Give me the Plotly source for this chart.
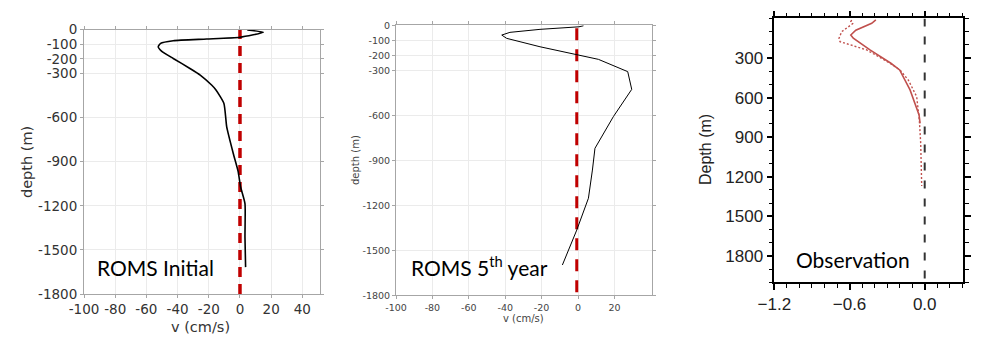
import plotly.graph_objects as go

W, H = 986, 351

# ---------------- data ----------------
# Panel 1: ROMS Initial (v in cm/s, depth in m, negative down)
init_v = [4.7, 15.0, 0.0, -21.4, -42.8, -50.9, -52.4, -50.3, -42.8, -32.1, -25.5, -18.2, -15.5, -10.3, -8.5, -4.3, -1.2, 0.4, 3.2, 3.2, 3.6]
init_depth = [-3, -19, -53, -65, -76, -94, -117, -147, -197, -265, -310, -378, -410, -503, -663, -844, -965, -1072, -1185, -1413, -1617]

# Panel 2: ROMS 5th year
year5_v = [3.0, 0.5, -20.9, -37.4, -41.9, -39.2, -20.9, 0.2, 11.2, 27.3, 29.5, 19.4, 9.3, 7.9, 5.7, -0.7, -8.6]
year5_depth = [-3, -10, -27, -47, -65, -87, -143, -198, -227, -309, -427, -609, -820, -965, -1153, -1365, -1598]

# Panel 3: Observation (depth positive down)
obs_solid_v = [-0.39, -0.423, -0.55, -0.59, -0.57, -0.437, -0.27, -0.2, -0.117, -0.045, -0.037]
obs_solid_depth = [12, 37, 90, 126, 150, 239, 340, 391, 542, 732, 795]
obs_dot_v = [-0.583, -0.59, -0.575, -0.663, -0.684, -0.676, -0.463, -0.277, -0.197, -0.131, -0.064, -0.043, -0.032, -0.027, -0.024]
obs_dot_depth = [12, 25, 40, 101, 151, 176, 239, 340, 391, 467, 593, 770, 946, 1174, 1270]

# zero reference lines
zero1_x, zero1_y = [0, 0], [-1800, 0]
zero2_x, zero2_y = [-0.7, -0.7], [-1780, -10]
zero3_x, zero3_y = [0, 0], [0, 2000]

# tick labels
p1_xticks = [-100, -80, -60, -40, -20, 0, 20, 40]
p2_xticks = [-100, -80, -60, -40, -20, 0, 20]
p12_yticks = [0, -100, -200, -300, -600, -900, -1200, -1500, -1800]
p3_xticks = [-1.2, -0.6, 0.0]
p3_yticks = [300, 600, 900, 1200, 1500, 1800]

def hy(vals):
    return [str(v) for v in vals]

def px(x):
    return x / W

def py(y):
    return 1 - y / H

fig = go.Figure()

# Panel 1
fig.add_trace(go.Scatter(x=zero1_x, y=zero1_y, mode="lines", xaxis="x", yaxis="y",
                         line=dict(color="#c00000", width=3.5, dash="10px,7px"), showlegend=False))
fig.add_trace(go.Scatter(x=init_v, y=init_depth, mode="lines", xaxis="x", yaxis="y",
                         line=dict(color="black", width=1.6, shape="spline", smoothing=0.5), showlegend=False))
# Panel 2
fig.add_trace(go.Scatter(x=zero2_x, y=zero2_y, mode="lines", xaxis="x2", yaxis="y2",
                         line=dict(color="#c00000", width=3, dash="12px,9px"), showlegend=False))
fig.add_trace(go.Scatter(x=year5_v, y=year5_depth, mode="lines", xaxis="x2", yaxis="y2",
                         line=dict(color="black", width=1), showlegend=False))
# Panel 3
fig.add_trace(go.Scatter(x=zero3_x, y=zero3_y, mode="lines", xaxis="x3", yaxis="y3",
                         line=dict(color="#333333", width=2, dash="8px,10px"), showlegend=False))
fig.add_trace(go.Scatter(x=obs_solid_v, y=obs_solid_depth, mode="lines", xaxis="x3", yaxis="y3",
                         line=dict(color="#c0504d", width=1.6), showlegend=False))
fig.add_trace(go.Scatter(x=obs_dot_v, y=obs_dot_depth, mode="lines", xaxis="x3", yaxis="y3",
                         line=dict(color="#c0504d", width=1.4, dash="2px,2px"), showlegend=False))

mpl_font1 = dict(family="DejaVu Sans", size=13.5, color="#333333")
mpl_font2 = dict(family="DejaVu Sans", size=9.5, color="#444444")
common12 = dict(showgrid=True, gridcolor="#ebebeb", gridwidth=1, zeroline=False,
                showline=True, mirror="ticks", linecolor="#a6a6a6", linewidth=1,
                ticks="outside", ticklen=3, tickcolor="#a6a6a6", automargin=False)

fig.update_layout(
    width=W, height=H, margin=dict(l=0, r=0, t=0, b=0),
    paper_bgcolor="white", plot_bgcolor="white",
    xaxis=dict(domain=[px(84), px(320)], anchor="y", range=[-100, 51.3],
               tickmode="array", tickvals=p1_xticks, ticktext=hy(p1_xticks),
               tickfont=mpl_font1, **common12),
    yaxis=dict(domain=[py(294), py(29.5)], anchor="x", range=[-1800, 0],
               tickmode="array", tickvals=p12_yticks, ticktext=hy(p12_yticks),
               tickfont=mpl_font1, **common12),
    xaxis2=dict(domain=[px(396), px(652.3)], anchor="y2", range=[-100, 40.8],
                tickmode="array", tickvals=p2_xticks, ticktext=hy(p2_xticks),
                tickfont=mpl_font2, **common12),
    yaxis2=dict(domain=[py(295.3), py(25.3)], anchor="x2", range=[-1800, 0],
                tickmode="array", tickvals=p12_yticks, ticktext=hy(p12_yticks),
                tickfont=mpl_font2, **common12),
    xaxis3=dict(domain=[px(774.3), px(963.3)], anchor="y3", range=[-1.2005, 0.308],
                tickmode="array", tickvals=p3_xticks, tickformat=".1f",
                tickfont=dict(family="Liberation Sans", size=17, color="#222222"),
                showgrid=False, zeroline=False, showline=True, mirror="ticks",
                linecolor="black", linewidth=1.5, ticks="outside", ticklen=6,
                tickcolor="black", tickwidth=1.5, automargin=False,
                minor=dict(dtick=0.1, tick0=0, ticks="outside", ticklen=4,
                           tickcolor="black", tickwidth=1, showgrid=False)),
    yaxis3=dict(domain=[py(282.3), py(18.4)], anchor="x3", range=[2000, 0],
                tickmode="array", tickvals=p3_yticks,
                tickfont=dict(family="Liberation Sans", size=17, color="#222222"),
                showgrid=False, zeroline=False, showline=True, mirror="ticks",
                linecolor="black", linewidth=1.5, ticks="outside", ticklen=6,
                tickcolor="black", tickwidth=1.5, automargin=False,
                minor=dict(dtick=100, tick0=0, ticks="outside", ticklen=4,
                           tickcolor="black", tickwidth=1, showgrid=False)),
)

ann = []
# axis titles
ann.append(dict(text="depth (m)", x=px(27), y=py(162), textangle=-90, font=dict(family="DejaVu Sans", size=14.5, color="#333333")))
ann.append(dict(text="v (cm/s)", x=px(200.7), y=py(326.7), font=dict(family="DejaVu Sans", size=14.5, color="#333333")))
ann.append(dict(text="depth (m)", x=px(355), y=py(160), textangle=-90, font=dict(family="DejaVu Sans", size=10, color="#444444")))
ann.append(dict(text="v (cm/s)", x=px(523.3), y=py(318), font=dict(family="DejaVu Sans", size=10, color="#444444")))
ann.append(dict(text="Depth (m)", x=px(705), y=py(150), textangle=-90, font=dict(family="Liberation Sans", size=16, color="#222222")))
for a in ann:
    a.update(xref="paper", yref="paper", showarrow=False, xanchor="center", yanchor="middle")

labels = [
    dict(text="ROMS Initial", x=px(95), y=py(267)),
    dict(text="ROMS 5<sup>th</sup> year", x=px(409), y=py(266)),
    dict(text="Observation", x=px(794), y=py(259)),
]
for a in labels:
    a.update(xref="paper", yref="paper", showarrow=False, xanchor="left", yanchor="middle",
             font=dict(family="Lato", size=21, color="black"))
    ann.append(a)

fig.update_layout(annotations=ann)
fig.write_html("out.html")
